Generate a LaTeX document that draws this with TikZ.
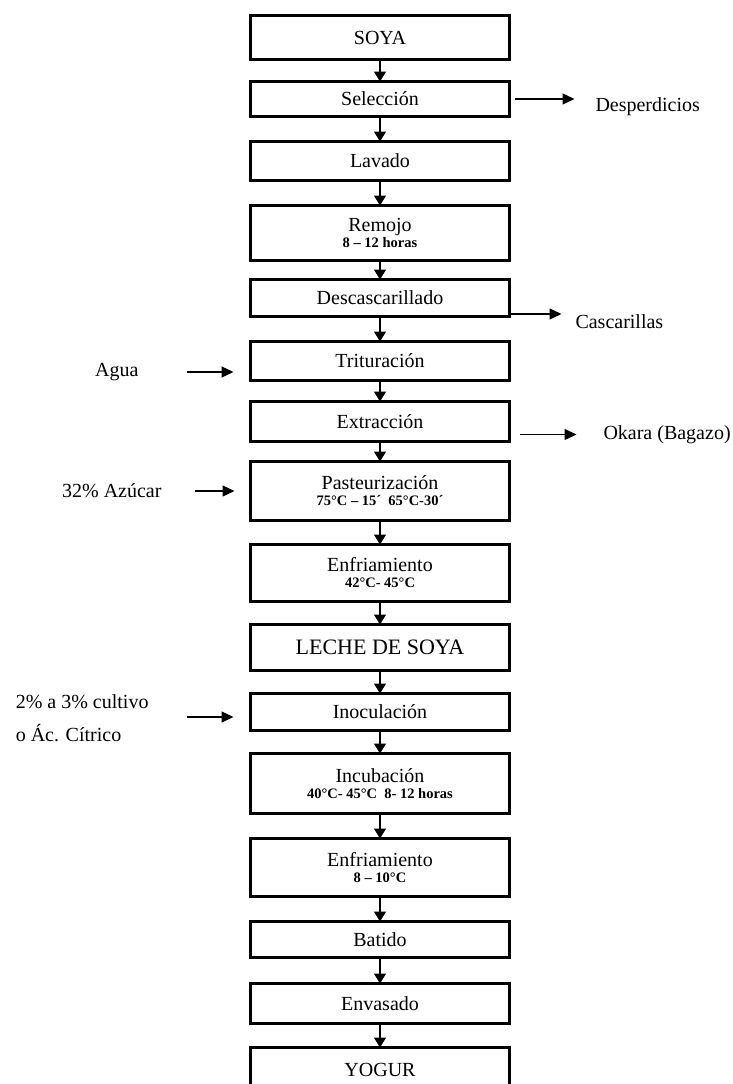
\documentclass[tikz,border=0pt]{standalone}
\usepackage{fontspec}
\setmainfont{Liberation Serif}
\usetikzlibrary{positioning, arrows.meta}
\tikzset{
  pbox/.style = {draw, line width=3pt, outer sep=0pt, minimum width=259pt, align=center, inner sep=0pt, font=\fontsize{20}{20}\selectfont},
  side/.style = {inner sep=0pt, outer sep=0pt, align=left, font=\fontsize{20}{33}\selectfont},
  flow/.style = {-{Triangle[length=10pt, width=12pt]}, line width=1.2pt},
  feed/.style = {-{Triangle[length=12pt, width=11pt]}, line width=1.3pt}
}
\newcommand{\detail}[1]{\\[-4pt]{\fontsize{14.5}{14}\selectfont\bfseries #1}}

\begin{document}
\begin{tikzpicture}[x=1pt, y=1pt]
  \useasboundingbox (0,0) rectangle (733,-1084);
  \node[pbox, minimum height=44pt] (soya) at (380,-37.5) {SOYA};
  \node[pbox, minimum height=35pt, below=22pt of soya]  (sel)   {Selección};
  \node[pbox, minimum height=39pt, below=25pt of sel]   (lav)   {Lavado};
  \node[pbox, minimum height=55pt, below=25pt of lav]   (rem)   {Remojo\detail{8 – 12 horas}};
  \node[pbox, minimum height=37pt, below=19pt of rem]   (desc)  {Descascarillado};
  \node[pbox, minimum height=39pt, below=25pt of desc]  (trit)  {Trituración};
  \node[pbox, minimum height=40pt, below=21pt of trit]  (extr)  {Extracción};
  \node[pbox, minimum height=59pt, below=20pt of extr]  (past)  {Pasteurización\detail{75°C – 15´\ \ 65°C-30´}};
  \node[pbox, minimum height=57pt, below=24pt of past]  (enf)   {Enfriamiento\detail{42°C- 45°C}};
  \node[pbox, minimum height=46pt, below=23pt of enf, font=\fontsize{22}{22}\selectfont] (leche) {LECHE DE SOYA};
  \node[pbox, minimum height=37pt, below=23pt of leche] (inoc)  {Inoculación};
  \node[pbox, minimum height=60pt, below=23pt of inoc]  (incub) {Incubación\detail{40°C- 45°C\ \ 8- 12 horas}};
  \node[pbox, minimum height=58pt, below=25pt of incub] (enf2)  {Enfriamiento\detail{8 – 10°C}};
  \node[pbox, minimum height=36pt, below=25pt of enf2]  (bat)   {Batido};
  \node[pbox, minimum height=40pt, below=26pt of bat]   (env)   {Envasado};
  \node[pbox, minimum height=45pt, below=24pt of env]   (yog)   {YOGUR};
  \draw[flow] (soya) -- (sel);
  \draw[flow] (sel) -- (lav);
  \draw[flow] (lav) -- (rem);
  \draw[flow] (rem) -- (desc);
  \draw[flow] (desc) -- (trit);
  \draw[flow] (trit) -- (extr);
  \draw[flow] (extr) -- (past);
  \draw[flow] (past) -- (enf);
  \draw[flow] (enf) -- (leche);
  \draw[flow] (leche) -- (inoc);
  \draw[flow] (inoc) -- (incub);
  \draw[flow] (incub) -- (enf2);
  \draw[flow] (enf2) -- (bat);
  \draw[flow] (bat) -- (env);
  \draw[flow] (env) -- (yog);
  % entradas y salidas
  \node[side, right=86pt of sel, yshift=-8pt]    (desp)  {Desperdicios};
  \node[side, right=66pt of desc, yshift=-24pt]  (casc)  {Cascarillas};
  \node[side, right=94pt of extr, yshift=-13pt]  (okara) {Okara (Bagazo)};
  \node[side, left=112pt of trit, yshift=-11pt]  (agua)  {Agua};
  \node[side, left=89pt of past]                 (azuc)  {32\% Azúcar};
  \node[side, left=102pt of inoc, yshift=-6pt]   (cult)  {2\% a 3\% cultivo\\o Ác. Cítrico};
  \draw[feed, shorten <=5pt, shorten >=21pt] (sel.east) -- (sel.east -| desp.west);
  \draw[feed, shorten >=14pt] ([yshift=-16pt]desc.east) -- ([yshift=-16pt]desc.east -| casc.west);
  \draw[feed, shorten <=10pt, shorten >=27pt] ([yshift=-13pt]extr.east) -- (okara.west);
  \draw[feed, shorten <=48pt, shorten >=17pt] (agua.east) -- (agua.east -| trit.west);
  \draw[feed, shorten <=33pt, shorten >=16pt] (azuc) -- (past);
  \draw[feed, shorten <=38pt, shorten >=17pt] ([yshift=-5pt]inoc.west -| cult.east) -- ([yshift=-5pt]inoc.west);
\end{tikzpicture}
\end{document}
